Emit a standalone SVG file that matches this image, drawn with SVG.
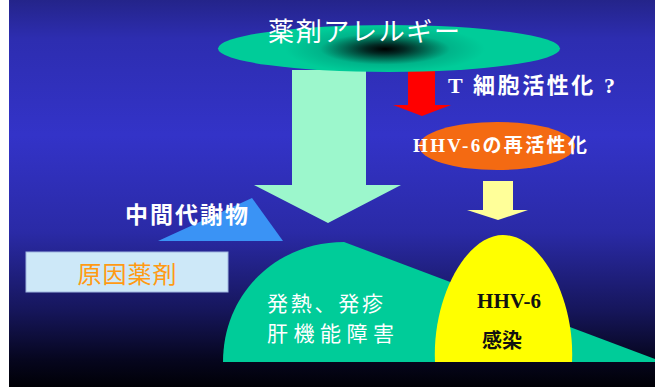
<svg xmlns="http://www.w3.org/2000/svg" width="655" height="387" viewBox="0 0 655 387">
<defs>
<linearGradient id="bg" x1="0" y1="0" x2="0" y2="387" gradientUnits="userSpaceOnUse">
<stop offset="0" stop-color="#24248a"/>
<stop offset="0.1" stop-color="#2d2db0"/>
<stop offset="0.35" stop-color="#3333c8"/>
<stop offset="0.6" stop-color="#2a2aa6"/>
<stop offset="0.8" stop-color="#16165c"/>
<stop offset="0.93" stop-color="#06061e"/>
<stop offset="1" stop-color="#000006"/>
</linearGradient>
<radialGradient id="eg" gradientUnits="userSpaceOnUse" cx="0" cy="0" r="1" gradientTransform="translate(385 49) scale(100 24)">
<stop offset="0" stop-color="#000000"/>
<stop offset="0.2" stop-color="#022a24"/>
<stop offset="0.65" stop-color="#00b48a"/>
<stop offset="1" stop-color="#00cc99"/>
</radialGradient>
<style>
.jp{font-family:"Noto Sans CJK JP","Noto Sans",sans-serif}
.sf{font-family:"Liberation Serif","Noto Sans CJK JP",serif;font-weight:bold}
.w{fill:#ffffff}
</style>
</defs>
<rect x="0" y="0" width="655" height="387" fill="#ffffff"/>
<rect x="9" y="0" width="646" height="387" fill="url(#bg)"/>
<g id="connectors">
<polygon id="arrow-main" points="292,70 366,70 366,185 401,185 328,223 254,185 292,185" fill="#9cf7cc"/>
<polygon id="arrow-red" points="408,70 435,70 435,105 451,105 422,116 393,105 408,105" fill="#ff0000"/>
<polygon id="arrow-yellow" points="483,181 513,181 513,210 528,210 498,220 467,210 483,210" fill="#ffff99"/>
</g>
<g id="node-allergy">
<ellipse cx="389" cy="48.5" rx="171" ry="23.5" fill="url(#eg)"/>
<text x="364" y="41" text-anchor="middle" class="jp w" font-size="26" textLength="192">薬剤アレルギー</text>
</g>
<g id="label-tcell">
<text x="448" y="93" class="w" font-size="22" textLength="167"><tspan class="sf">T </tspan><tspan class="jp" font-weight="bold">細胞活性化</tspan><tspan class="sf"> ?</tspan></text>
</g>
<g id="node-reactivation">
<ellipse cx="497" cy="146" rx="78" ry="24" fill="#f46a12"/>
<text x="413" y="152" class="w" font-size="19" textLength="174"><tspan class="sf">HHV-6</tspan><tspan class="jp" font-weight="bold">の再活性化</tspan></text>
</g>
<g id="node-metabolite">
<polygon points="252,198 283,241 158,241" fill="#3a93f5"/>
<text x="125" y="223" class="jp w" font-size="23" font-weight="bold" textLength="123">中間代謝物</text>
</g>
<g id="node-drug">
<rect x="26" y="252" width="202" height="40" fill="#cde8f8" stroke="#9fb6e0" stroke-width="1"/>
<text x="127" y="283" text-anchor="middle" class="jp" font-size="24" fill="#ff9a14" textLength="99">原因薬剤</text>
</g>
<g id="node-symptoms">
<path d="M223,362 C223,292 278,242 344,242 L655,359 L655,362 Z" fill="#00cc99"/>
<text x="267" y="311" class="jp w" font-size="21" textLength="116">発熱、発疹</text>
<text x="267" y="341" class="jp w" font-size="21" textLength="127">肝機能障害</text>
</g>
<g id="node-hhv6">
<path d="M435,362 C432,298 466,235 503,235 C541,235 575,298 572,362 Z" fill="#ffff00"/>
<text x="509" y="308" text-anchor="middle" class="sf" font-size="21" fill="#111111">HHV-6</text>
<text x="502" y="348" text-anchor="middle" class="jp" font-size="20" font-weight="bold" fill="#111111">感染</text>
</g>
</svg>
